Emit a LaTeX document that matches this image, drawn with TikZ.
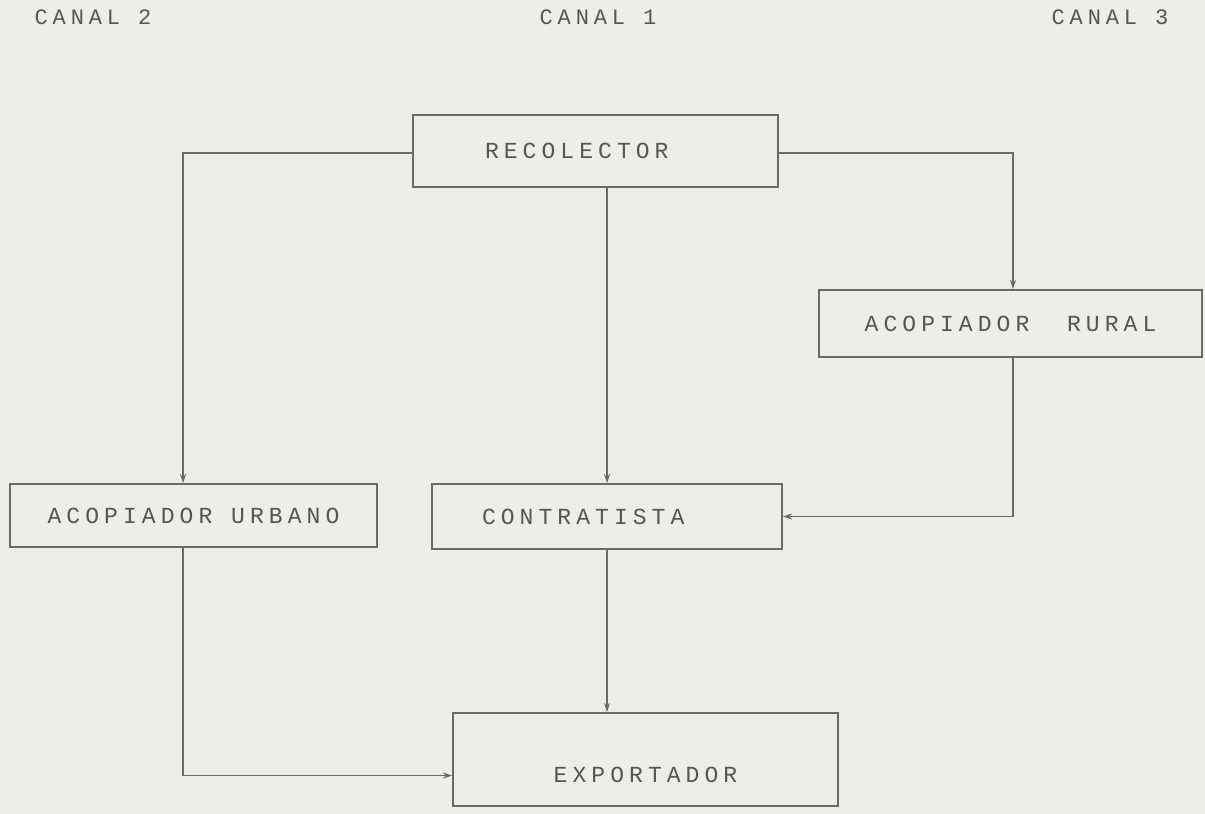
\documentclass[tikz,border=0pt]{standalone}
\usepackage{fontspec}
\newfontfamily\dotfont[LetterSpace=22]{Liberation Mono}
\usetikzlibrary{arrows.meta}
\definecolor{paper}{HTML}{EEEDE7}
\definecolor{ink}{HTML}{6A6A6A}
\definecolor{txt}{HTML}{555555}
\begin{document}
\begin{tikzpicture}[x=1pt,y=-1pt,
  box/.style={draw=ink, line width=2pt, fill=none, text=txt, font=\dotfont\fontsize{23}{26}\selectfont, inner sep=0pt},
  canal/.style={text=txt, font=\dotfont\fontsize{22}{26}\selectfont, inner sep=0pt},
  conn/.style={draw=ink, line width=1.2pt, -{Stealth[length=9pt,width=6pt]}}]
\fill[paper] (0,0) rectangle (1205,814);
\useasboundingbox (0,0) rectangle (1205,814);
\node[canal] (c2) at (93,17) {CANAL 2};
\node[canal] (c1) at (598,17) {CANAL 1};
\node[canal] (c3) at (1110,17) {CANAL 3};
\node[box, minimum width=365pt, minimum height=72pt, text width=345pt, align=left, text depth=0pt] (rec) at (595.5,151) {\hspace*{62pt}RECOLECTOR};
\node[box, minimum width=383pt, minimum height=67pt] (rur) at (1010.5,323.5) {ACOPIADOR~~RURAL};
\node[box, minimum width=367pt, minimum height=63pt] (urb) at (193.5,515.5) {ACOPIADOR URBANO};
\node[box, minimum width=350pt, minimum height=65pt, text width=330pt, align=left] (con) at (607,516.5) {\hspace*{40pt}CONTRATISTA};
\node[box, minimum width=385pt, minimum height=93pt, text height=45pt, text depth=0pt] (exp) at (645.5,759.5) {EXPORTADOR};
\draw[conn] ([yshift=-2pt]rec.west) -| ([xshift=-10.5pt]urb.north);
\draw[conn] ([yshift=-2pt]rec.east) -| ([xshift=2.5pt]rur.north);
\draw[conn] (rec.south -| con.north) -- (con.north);
\draw[conn] ([xshift=2.5pt]rur.south) |- (con.east);
\draw[conn] (con.south) -- (con.south |- exp.north);
\draw[conn] ([xshift=-10.5pt]urb.south) |- ([yshift=-16pt]exp.west);
\end{tikzpicture}
\end{document}
